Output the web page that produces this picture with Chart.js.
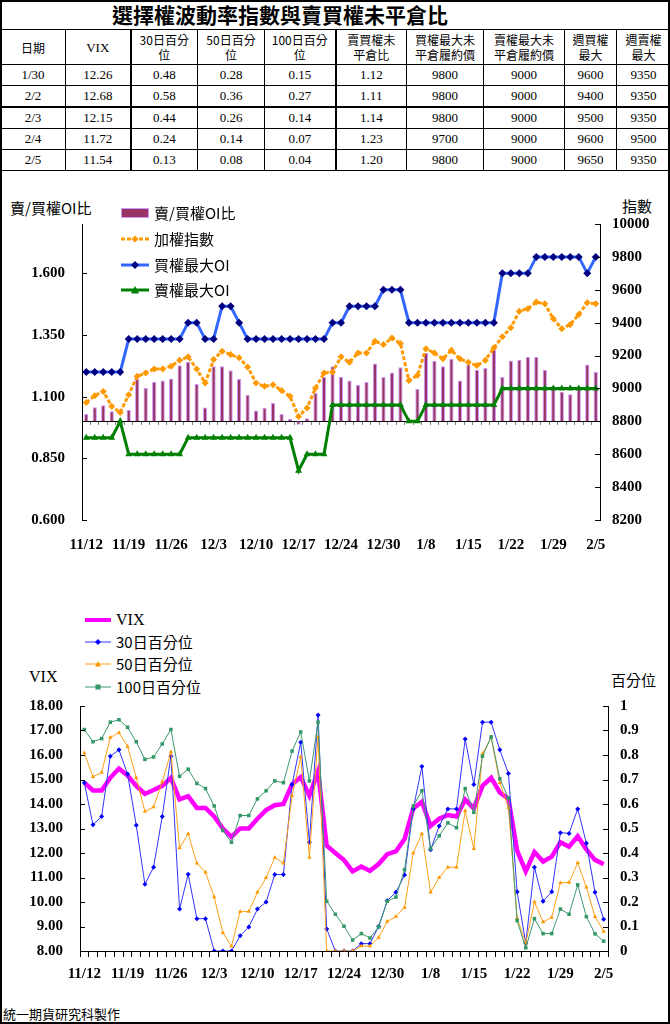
<!DOCTYPE html>
<html lang="zh-Hant">
<head>
<meta charset="UTF-8">
<title>選擇權波動率指數與賣買權未平倉比</title>
<script src="https://cdn.jsdelivr.net/npm/chart.js"></script>
<style>
body { margin: 0; background: #fff; }
#page { position: relative; width: 670px; height: 1024px; background: #fff; overflow: hidden;
        font-family: "Noto Sans CJK TC", sans-serif; color: #000; }
#frame { position: absolute; left: 0; top: 0; width: 670px; height: 1024px; box-sizing: border-box;
         border: 2px solid #000; pointer-events: none; z-index: 5; }
h1 { position: absolute; left: 0; top: 0; width: 560px; height: 29px; margin: 0; line-height: 29px;
     text-align: center; font-size: 21px; font-weight: bold; }
table { position: absolute; left: 0; top: 29px; width: 670px; border-collapse: collapse; table-layout: fixed; }
th, td { border: 1px solid #000; padding: 0; text-align: center; }
th { height: 34px; font-weight: normal; font-size: 12px; line-height: 15px; }
td { height: 20px; font-family: "Liberation Serif", serif; font-size: 13px; }
.thick-r { border-right-width: 2px; }
.thick-b td { border-bottom-width: 2px; }
canvas { position: absolute; left: 0; }
.lbl { position: absolute; white-space: nowrap; font-size: 15px; line-height: 18px; }
.serif { font-family: "Liberation Serif", serif; font-size: 16px; }
.leg { position: absolute; display: flex; align-items: center; white-space: nowrap; font-size: 15px; line-height: 18px; }
.leg svg { margin-right: 5px; }
#foot { position: absolute; left: 3px; top: 1004px; font-size: 13px; }
</style>
</head>
<body>
<div id="page">
  <h1>選擇權波動率指數與賣買權未平倉比</h1>
  <table id="summary">
    <colgroup>
      <col style="width:65px"><col style="width:65px"><col style="width:67px"><col style="width:67px">
      <col style="width:71px"><col style="width:71px"><col style="width:77px"><col style="width:81px">
      <col style="width:52px"><col style="width:54px">
    </colgroup>
    <thead>
      <tr>
        <th>日期</th><th class="thick-r" style="font-family:'Liberation Serif',serif;font-size:13px">VIX</th>
        <th>30日百分<br>位</th><th>50日百分<br>位</th><th class="thick-r">100日百分<br>位</th>
        <th>賣買權未<br>平倉比</th><th>買權最大未<br>平倉履約價</th><th>賣權最大未<br>平倉履約價</th>
        <th>週買權<br>最大</th><th>週賣權<br>最大</th>
      </tr>
    </thead>
    <tbody></tbody>
  </table>

  <!-- chart 1 -->
  <div class="lbl" style="left:10px;top:199px">賣/買權OI比</div>
  <div class="lbl" style="left:622px;top:197px">指數</div>
  <canvas id="oiChart" width="670" height="370" style="top:195px"></canvas>
  <div class="leg" style="left:121px;top:204px">
    <svg width="28" height="12"><rect x="0.5" y="1.5" width="27" height="9" fill="#993366" stroke="#CC99FF"/></svg>賣/買權OI比
  </div>
  <div class="leg" style="left:121px;top:230px">
    <svg width="28" height="10"><line x1="0" y1="5" x2="28" y2="5" stroke="#FF9900" stroke-width="3" stroke-dasharray="4 2"/><polygon points="14,1.5 17.5,5 14,8.5 10.5,5" fill="#FF9900"/></svg>加權指數
  </div>
  <div class="leg" style="left:121px;top:256px">
    <svg width="28" height="10"><line x1="0" y1="5" x2="28" y2="5" stroke="#3366FF" stroke-width="3"/><polygon points="14,1 18,5 14,9 10,5" fill="#000080"/></svg>買權最大OI
  </div>
  <div class="leg" style="left:121px;top:281px">
    <svg width="28" height="10"><line x1="0" y1="5" x2="28" y2="5" stroke="#008000" stroke-width="3"/><polygon points="14,1 18,8.5 10,8.5" fill="#008000"/></svg>賣權最大OI
  </div>

  <!-- chart 2 -->
  <div class="leg" style="left:85px;top:611px">
    <svg width="26" height="10"><line x1="0" y1="5" x2="26" y2="5" stroke="#FF00FF" stroke-width="4"/></svg><span class="serif">VIX</span>
  </div>
  <div class="leg" style="left:85px;top:633px">
    <svg width="26" height="10"><line x1="0" y1="5" x2="26" y2="5" stroke="#3333FF" stroke-width="1"/><polygon points="13,2 16,5 13,8 10,5" fill="#0000FF"/></svg>30日百分位
  </div>
  <div class="leg" style="left:85px;top:655px">
    <svg width="26" height="10"><line x1="0" y1="5" x2="26" y2="5" stroke="#FFA01A" stroke-width="1"/><polygon points="13,2 16,7.5 10,7.5" fill="#FF9900"/></svg>50日百分位
  </div>
  <div class="leg" style="left:85px;top:678px">
    <svg width="26" height="10"><line x1="0" y1="5" x2="26" y2="5" stroke="#3D9970" stroke-width="1"/><rect x="10.5" y="2.5" width="5" height="5" fill="#339966"/></svg>100日百分位
  </div>
  <div class="lbl serif" style="left:29px;top:668px">VIX</div>
  <div class="lbl" style="left:611px;top:671px">百分位</div>
  <canvas id="vixChart" width="670" height="310" style="top:680px"></canvas>

  <div id="foot">統一期貨研究科製作</div>
  <div id="frame"></div>
</div>

<script>
// ---- table (last five trading days) ----
const tableDates = ['1/30', '2/2', '2/3', '2/4', '2/5'];
const tableVix = ['12.26', '12.68', '12.15', '11.72', '11.54'];
const table30 = ['0.48', '0.58', '0.44', '0.24', '0.13'];
const table50 = ['0.28', '0.36', '0.26', '0.14', '0.08'];
const table100 = ['0.15', '0.27', '0.14', '0.07', '0.04'];
const tablePcRatio = ['1.12', '1.11', '1.14', '1.23', '1.20'];
const tableCallStrike = ['9800', '9800', '9800', '9700', '9800'];
const tablePutStrike = ['9000', '9000', '9000', '9000', '9000'];
const tableWeekCall = ['9600', '9400', '9500', '9600', '9650'];
const tableWeekPut = ['9350', '9350', '9350', '9500', '9350'];

// ---- chart data (11/12 - 2/5, trading days) ----
const dates = ['11/12','11/13','11/14','11/17','11/18','11/19','11/20','11/21','11/24','11/25',
  '11/26','11/27','11/28','12/1','12/2','12/3','12/4','12/5','12/8','12/9',
  '12/10','12/11','12/12','12/15','12/16','12/17','12/18','12/19','12/22','12/23',
  '12/24','12/25','12/26','12/27','12/29','12/30','12/31','1/5','1/6','1/7',
  '1/8','1/9','1/12','1/13','1/14','1/15','1/16','1/19','1/20','1/21',
  '1/22','1/23','1/26','1/27','1/28','1/29','1/30','2/2','2/3','2/4','2/5'];

// 賣/買權OI比 (left axis)
const oiRatio = [1.030,1.057,1.065,1.041,1.005,1.046,1.172,1.135,1.159,1.166,
  1.174,1.227,1.242,1.151,1.056,1.223,1.223,1.207,1.172,1.108,
  1.044,1.055,1.074,1.030,1.009,0.986,1.013,1.115,1.180,1.223,
  1.180,1.166,1.147,1.159,1.234,1.180,1.198,1.219,1.003,1.131,
  1.277,1.246,1.223,1.254,1.166,1.230,1.209,1.216,1.291,1.180,
  1.247,1.250,1.261,1.261,1.209,1.142,1.12,1.11,1.14,1.23,1.20];
// 加權指數 (right axis)
const taiex = [8915,8956,8982,8891,8854,8962,9074,9094,9119,9119,
  9135,9171,9192,9119,9033,9176,9226,9206,9186,9131,
  9033,9013,9023,8988,8952,8830,8881,9003,9094,9100,
  9192,9159,9216,9216,9287,9267,9307,9273,9048,9080,
  9241,9216,9180,9232,9180,9159,9139,9171,9247,9314,
  9369,9470,9485,9525,9515,9424,9363,9389,9450,9521,9515];
// 買權最大OI
const callMaxOI = [9100,9100,9100,9100,9100,9300,9300,9300,9300,9300,
  9300,9300,9400,9400,9300,9300,9500,9500,9400,9300,
  9300,9300,9300,9300,9300,9300,9300,9300,9300,9400,
  9400,9500,9500,9500,9500,9600,9600,9600,9400,9400,
  9400,9400,9400,9400,9400,9400,9400,9400,9400,9700,
  9700,9700,9700,9800,9800,9800,9800,9800,9800,9700,9800];
// 賣權最大OI
const putMaxOI = [8700,8700,8700,8700,8800,8600,8600,8600,8600,8600,
  8600,8600,8700,8700,8700,8700,8700,8700,8700,8700,
  8700,8700,8700,8700,8700,8500,8600,8600,8600,8900,
  8900,8900,8900,8900,8900,8900,8900,8900,8800,8800,
  8900,8900,8900,8900,8900,8900,8900,8900,8900,9000,
  9000,9000,9000,9000,9000,9000,9000,9000,9000,9000,9000];
const oiTicks = [0.6, 0.85, 1.1, 1.35, 1.6];

// VIX (left axis) and percentiles (right axis)
const vix = [14.87,14.55,14.55,15.07,15.45,15.16,14.74,14.41,14.57,14.74,
  15.07,14.19,14.32,13.84,13.84,13.49,13.0,12.66,13.0,13.0,
  13.4,13.75,13.95,14.0,14.8,15.1,14.34,15.33,12.3,12.0,
  11.71,11.25,11.45,11.27,11.55,11.95,12.07,12.57,13.82,14.09,
  13.1,13.4,13.55,13.49,14.18,13.82,14.74,15.07,14.47,14.21,
  12.1,11.25,12.04,11.65,11.85,12.44,12.26,12.68,12.15,11.72,11.54];
const pct30 = [0.687,0.515,0.549,0.795,0.821,0.722,0.513,0.272,0.342,0.549,
  0.795,0.171,0.313,0.132,0.132,0.0,0.0,0.0,0.062,0.098,
  0.171,0.2,0.312,0.312,0.68,0.852,0.444,0.963,0.09,0.0,
  0.0,0.0,0.03,0.03,0.1,0.205,0.24,0.31,0.58,0.753,
  0.413,0.51,0.58,0.58,0.865,0.68,0.934,0.934,0.821,0.724,
  0.242,0.032,0.342,0.203,0.242,0.483,0.48,0.58,0.44,0.24,0.13];
const pct50 = [0.808,0.711,0.729,0.871,0.891,0.835,0.707,0.569,0.588,0.69,
  0.812,0.42,0.479,0.358,0.321,0.22,0.075,0.019,0.161,0.161,
  0.24,0.299,0.382,0.358,0.634,0.792,0.382,0.874,0.0,0.0,
  0.0,0.0,0.02,0.02,0.055,0.12,0.141,0.178,0.4,0.479,
  0.24,0.3,0.342,0.342,0.572,0.417,0.805,0.871,0.687,0.585,
  0.134,0.032,0.2,0.118,0.137,0.279,0.28,0.36,0.26,0.14,0.08];
const pct100 = [0.904,0.854,0.867,0.934,0.944,0.913,0.854,0.782,0.792,0.845,
  0.904,0.713,0.742,0.684,0.663,0.592,0.492,0.444,0.553,0.553,
  0.621,0.654,0.694,0.687,0.816,0.894,0.694,0.934,0.203,0.15,
  0.101,0.045,0.071,0.053,0.098,0.203,0.22,0.332,0.592,0.654,
  0.417,0.47,0.523,0.503,0.663,0.566,0.795,0.874,0.703,0.624,
  0.124,0.013,0.132,0.071,0.071,0.171,0.15,0.27,0.14,0.07,0.04];

// fill the table
const tbody = document.querySelector('#summary tbody');
tableDates.forEach((d, i) => {
  const row = document.createElement('tr');
  if (i === 1) row.className = 'thick-b';
  const cells = [d, tableVix[i], table30[i], table50[i], table100[i], tablePcRatio[i],
    tableCallStrike[i], tablePutStrike[i], tableWeekCall[i], tableWeekPut[i]];
  cells.forEach((c, j) => {
    const td = document.createElement('td');
    td.textContent = c;
    if (j === 1 || j === 4) td.className = 'thick-r';
    row.appendChild(td);
  });
  tbody.appendChild(row);
});

const serif = '"Liberation Serif", "Times New Roman", serif';
const tickFont = { family: serif, size: 15, weight: 'bold' };
const everyFifth = (v, i) => (i % 5 === 0 ? dates[i] : '');

// short tick marks drawn inward from the value axes
const innerTicks = {
  id: 'innerTicks',
  afterDraw(chart) {
    const { ctx, chartArea } = chart;
    ctx.save();
    ctx.strokeStyle = '#000';
    ctx.lineWidth = 1;
    ['y', 'y1'].forEach(id => {
      const s = chart.scales[id];
      const x0 = id === 'y' ? chartArea.left : chartArea.right;
      const dir = id === 'y' ? 1 : -1;
      s.ticks.forEach(t => {
        const py = Math.round(s.getPixelForValue(t.value)) + 0.5;
        ctx.beginPath();
        ctx.moveTo(x0, py);
        ctx.lineTo(x0 + dir * 5, py);
        ctx.stroke();
      });
    });
    ctx.restore();
  }
};

new Chart(document.getElementById('oiChart'), {
  type: 'bar',
  data: {
    labels: dates,
    datasets: [
      { type: 'line', label: '加權指數', data: taiex, xAxisID: 'x', yAxisID: 'y1',
        borderColor: '#FF9900', backgroundColor: '#FF9900', borderWidth: 3, borderDash: [4, 2],
        pointStyle: 'rectRot', pointRadius: 3.5, pointBorderWidth: 0, order: 3 },
      { type: 'line', label: '買權最大OI', data: callMaxOI, xAxisID: 'x', yAxisID: 'y1',
        borderColor: '#3366FF', backgroundColor: '#000080', borderWidth: 3,
        pointStyle: 'rectRot', pointRadius: 4, pointBorderWidth: 0, order: 2 },
      { type: 'line', label: '賣權最大OI', data: putMaxOI, xAxisID: 'x', yAxisID: 'y1',
        borderColor: '#008000', backgroundColor: '#008000', borderWidth: 3,
        pointStyle: 'triangle', pointRadius: 4, pointBorderWidth: 0, order: 1 },
      { type: 'bar', label: '賣/買權OI比', data: oiRatio, xAxisID: 'x', yAxisID: 'y', base: 1,
        backgroundColor: '#993366', borderColor: '#CC99FF', borderWidth: 1,
        barPercentage: 0.5, categoryPercentage: 1, order: 10 }
    ]
  },
  options: {
    responsive: false,
    animation: false,
    layout: { padding: { top: 29, left: 0, right: 0, bottom: 0 } },
    plugins: { legend: { display: false }, tooltip: { enabled: false } },
    scales: {
      x: {
        offset: true,
        grid: { display: false, drawTicks: false },
        border: { display: false },
        ticks: { autoSkip: false, maxRotation: 0, callback: everyFifth, font: tickFont, color: '#000', padding: 16 },
        afterFit(s) { s.height = 45; }
      },
      xBase: {
        axis: 'x', type: 'category', position: { y: 1 }, offset: true,
        grid: { offset: true, drawOnChartArea: false, drawTicks: true, tickLength: 3, color: '#808080' },
        border: { display: true, color: '#000', width: 1 },
        ticks: { display: false }
      },
      y: {
        position: 'left', min: 0.6, max: 1.8,
        afterBuildTicks(s) { s.ticks = oiTicks.map(v => ({ value: v })); },
        grid: { display: false, drawTicks: false },
        border: { display: true, color: '#000', width: 1 },
        ticks: { callback: v => v.toFixed(3), font: tickFont, color: '#000', padding: 17 },
        afterFit(s) { s.width = 82; }
      },
      y1: {
        position: 'right', min: 8200, max: 10000,
        grid: { display: false, drawTicks: false },
        border: { display: true, color: '#000', width: 1 },
        ticks: { stepSize: 200, callback: v => String(v), font: tickFont, color: '#000', padding: 12 },
        afterFit(s) { s.width = 70; }
      }
    }
  },
  plugins: [innerTicks]
});

new Chart(document.getElementById('vixChart'), {
  type: 'line',
  data: {
    labels: dates,
    datasets: [
      { label: 'VIX', data: vix, yAxisID: 'y', borderColor: '#FF00FF', borderWidth: 4.5,
        pointRadius: 0, order: 4 },
      { label: '30日百分位', data: pct30, yAxisID: 'y1', borderColor: '#3333FF', backgroundColor: '#0000FF',
        borderWidth: 1, pointStyle: 'rectRot', pointRadius: 2.5, pointBorderWidth: 0, order: 3 },
      { label: '50日百分位', data: pct50, yAxisID: 'y1', borderColor: '#FFA01A', backgroundColor: '#FF9900',
        borderWidth: 1, pointStyle: 'triangle', pointRadius: 2.5, pointBorderWidth: 0, order: 2 },
      { label: '100日百分位', data: pct100, yAxisID: 'y1', borderColor: '#3D9970', backgroundColor: '#339966',
        borderWidth: 1, pointStyle: 'rect', pointRadius: 2.5, pointBorderWidth: 0, order: 1 }
    ]
  },
  options: {
    responsive: false,
    animation: false,
    layout: { padding: { top: 17, left: 0, right: 0, bottom: 0 } },
    plugins: { legend: { display: false }, tooltip: { enabled: false } },
    scales: {
      x: {
        offset: true,
        grid: { offset: true, drawOnChartArea: false, drawTicks: true, tickLength: 6, color: '#000' },
        border: { display: true, color: '#000', width: 1 },
        ticks: { autoSkip: false, maxRotation: 0, callback: everyFifth, font: tickFont, color: '#000', padding: 8 },
        afterFit(s) { s.height = 39; }
      },
      y: {
        position: 'left', min: 8, max: 18,
        grid: { display: false, drawTicks: false },
        border: { display: true, color: '#000', width: 1 },
        ticks: { stepSize: 1, callback: v => v.toFixed(2), font: tickFont, color: '#000', padding: 17 },
        afterFit(s) { s.width = 80; }
      },
      y1: {
        position: 'right', min: 0, max: 1,
        grid: { display: false, drawTicks: false },
        border: { display: true, color: '#000', width: 1 },
        ticks: { stepSize: 0.1, callback: v => String(+v.toFixed(1)), font: tickFont, color: '#000', padding: 12 },
        afterFit(s) { s.width = 62; }
      }
    }
  },
  plugins: [innerTicks]
});
</script>
</body>
</html>
